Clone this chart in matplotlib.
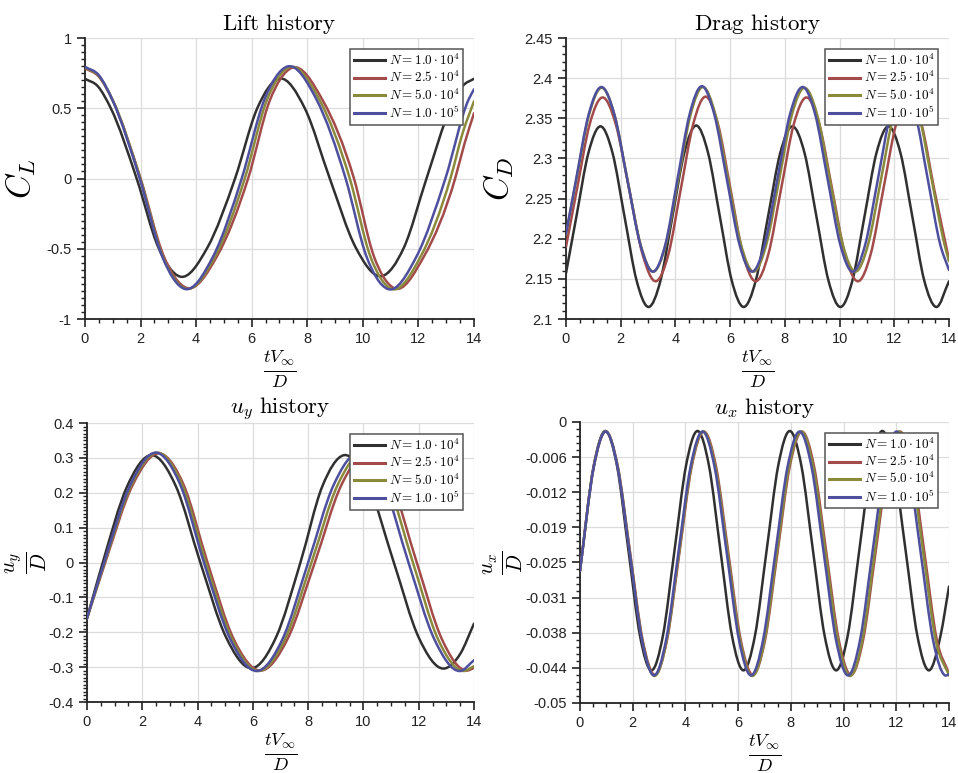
import numpy as np
import matplotlib
matplotlib.use("Agg")
import matplotlib.pyplot as plt
from matplotlib.path import Path
from matplotlib.patches import PathPatch
from matplotlib.lines import Line2D
from matplotlib.ticker import MultipleLocator, AutoMinorLocator, FuncFormatter, FixedLocator

plt.rcParams['font.family'] = ['Liberation Sans', 'DejaVu Sans']
plt.rcParams['mathtext.fontset'] = 'cm'
plt.rcParams['axes.unicode_minus'] = False

# ---- mesh sizes and line colours ----
labels = [r'$N = 1.0\cdot10^4$', r'$N = 2.5\cdot10^4$', r'$N = 5.0\cdot10^4$', r'$N = 1.0\cdot10^5$']
colors = ['#303030', '#a34b4b', '#8a8a3c', '#4e4f9e']

# ---- lift coefficient ----
lift_t_1e4 = [0, 0.47, 0.93, 1.86, 2.64, 3.42, 4.41, 5.40, 6.20, 7.01, 7.91, 8.81, 9.74, 10.67, 11.48, 12.29, 13.15, 13.60, 14.0]
lift_cl_1e4 = [0.71, 0.655, 0.50, 0.0, -0.49, -0.698, -0.49, 0.0, 0.50, 0.712, 0.50, 0.0, -0.49, -0.695, -0.49, 0.0, 0.50, 0.66, 0.71]
lift_t_2e4 = [0, 0.5, 1.0, 2.0, 2.83, 3.65, 4.76, 5.87, 6.65, 7.43, 8.56, 9.68, 10.39, 11.10, 12.21, 13.32, 13.66, 14.0]
lift_cl_2e4 = [0.785, 0.725, 0.555, 0.0, -0.55, -0.778, -0.55, 0.0, 0.555, 0.787, 0.555, 0.0, -0.55, -0.778, -0.55, 0.0, 0.25, 0.465]
lift_t_5e4 = [0, 0.5, 0.995, 1.99, 2.80, 3.61, 4.68, 5.75, 6.55, 7.35, 8.44, 9.53, 10.27, 11.0, 12.08, 13.15, 13.6, 14.0]
lift_cl_5e4 = [0.79, 0.73, 0.56, 0.0, -0.555, -0.783, -0.555, 0.0, 0.56, 0.792, 0.56, 0.0, -0.555, -0.783, -0.555, 0.0, 0.33, 0.55]
lift_t_1e5 = [0, 0.5, 0.985, 1.97, 2.78, 3.58, 4.61, 5.64, 6.46, 7.28, 8.33, 9.38, 10.13, 10.88, 11.93, 12.97, 13.8, 14.0]
lift_cl_1e5 = [0.795, 0.735, 0.56, 0.0, -0.555, -0.785, -0.555, 0.0, 0.563, 0.797, 0.563, 0.0, -0.555, -0.785, -0.555, 0.0, 0.56, 0.635]

# ---- drag coefficient ----
drag_t_1e4 = [0, 0.38, 0.82, 1.26, 1.70, 2.14, 2.58, 3.02, 3.455, 3.89, 4.325, 4.76, 5.193, 5.625, 6.058, 6.49,
              6.938, 7.385, 7.833, 8.28, 8.718, 9.155, 9.593, 10.03, 10.47, 10.91, 11.35, 11.79, 12.225, 12.66,
              13.095, 13.53, 14.0]
drag_cd_1e4 = [2.157, 2.2275, 2.307, 2.340, 2.307, 2.2275, 2.148, 2.115, 2.148, 2.2275, 2.307, 2.341, 2.307,
               2.2275, 2.148, 2.115, 2.148, 2.2275, 2.307, 2.340, 2.307, 2.2275, 2.148, 2.115, 2.148, 2.2275,
               2.307, 2.340, 2.307, 2.2275, 2.148, 2.115, 2.147]
drag_t_2e4 = [0, 0.40, 0.865, 1.33, 1.82, 2.31, 2.80, 3.29, 3.743, 4.195, 4.648, 5.10, 5.558, 6.015, 6.473, 6.93,
              7.395, 7.86, 8.325, 8.79, 9.26, 9.73, 10.20, 10.67, 11.135, 11.60, 12.065, 12.53, 12.995, 13.46, 14.0]
drag_cd_2e4 = [2.190, 2.2615, 2.3425, 2.376, 2.3425, 2.2615, 2.1805, 2.147, 2.1805, 2.2615, 2.3425, 2.377, 2.3425,
               2.2615, 2.1805, 2.147, 2.1805, 2.2615, 2.3425, 2.376, 2.3425, 2.2615, 2.1805, 2.147, 2.1805, 2.2615,
               2.3425, 2.376, 2.3425, 2.2615, 2.174]
drag_t_5e4 = [0, 0.375, 0.84, 1.30, 1.775, 2.25, 2.725, 3.20, 3.65, 4.10, 4.55, 5.00, 5.465, 5.93, 6.395, 6.86,
              7.325, 7.79, 8.255, 8.72, 9.185, 9.65, 10.115, 10.58, 11.045, 11.51, 11.975, 12.44, 12.905, 13.37,
              13.835, 14.0]
drag_cd_5e4 = [2.205, 2.273, 2.354, 2.388, 2.354, 2.273, 2.193, 2.159, 2.193, 2.273, 2.354, 2.389, 2.354, 2.273,
               2.193, 2.159, 2.193, 2.273, 2.354, 2.388, 2.354, 2.273, 2.193, 2.159, 2.193, 2.273, 2.354, 2.388,
               2.354, 2.273, 2.193, 2.172]
drag_t_1e5 = [0, 0.37, 0.83, 1.29, 1.765, 2.24, 2.715, 3.19, 3.633, 4.075, 4.518, 4.96, 5.42, 5.88, 6.34, 6.80,
              7.263, 7.725, 8.188, 8.65, 9.108, 9.565, 10.023, 10.48, 10.94, 11.40, 11.86, 12.32, 12.773, 13.225,
              13.678, 14.0]
drag_cd_1e5 = [2.206, 2.274, 2.355, 2.389, 2.355, 2.274, 2.193, 2.159, 2.193, 2.274, 2.355, 2.390, 2.355, 2.274,
               2.193, 2.159, 2.193, 2.274, 2.355, 2.389, 2.355, 2.274, 2.193, 2.159, 2.193, 2.274, 2.355, 2.389,
               2.355, 2.274, 2.193, 2.161]

# ---- transverse displacement u_y / D ----
uy_t_1e4 = [0, 0.57, 1.45, 2.34, 3.22, 4.10, 5.03, 5.96, 6.84, 7.72, 8.51, 9.30, 10.20, 11.10, 12.00, 12.90, 13.50, 14.0]
uy_val_1e4 = [-0.16, 0.0, 0.218, 0.308, 0.218, 0.0, -0.214, -0.303, -0.214, 0.0, 0.218, 0.308, 0.218, 0.0, -0.215, -0.304, -0.262, -0.175]
uy_t_2e4 = [0, 0.66, 1.65, 2.64, 3.50, 4.36, 5.31, 6.26, 7.25, 8.24, 9.20, 10.15, 11.04, 11.93, 12.84, 13.74, 14.0]
uy_val_2e4 = [-0.16, 0.0, 0.222, 0.313, 0.222, 0.0, -0.22, -0.31, -0.22, 0.0, 0.222, 0.313, 0.222, 0.0, -0.22, -0.31, -0.302]
uy_t_5e4 = [0, 0.64, 1.61, 2.58, 3.44, 4.30, 5.25, 6.20, 7.16, 8.12, 9.07, 10.02, 10.90, 11.79, 12.70, 13.62, 14.0]
uy_val_5e4 = [-0.16, 0.0, 0.223, 0.315, 0.223, 0.0, -0.22, -0.311, -0.22, 0.0, 0.223, 0.315, 0.223, 0.0, -0.22, -0.311, -0.297]
uy_t_1e5 = [0, 0.62, 1.57, 2.52, 3.375, 4.23, 5.185, 6.14, 7.07, 8.0, 8.925, 9.85, 10.74, 11.63, 12.565, 13.5, 14.0]
uy_val_1e5 = [-0.16, 0.0, 0.223, 0.315, 0.223, 0.0, -0.22, -0.311, -0.22, 0.0, 0.223, 0.315, 0.223, 0.0, -0.22, -0.311, -0.28]

# ---- streamwise displacement u_x / D ----
ux_t_1e4 = [0, 0.52, 0.97, 1.405, 1.84, 2.275, 2.71, 3.148, 3.585, 4.022, 4.46, 4.895, 5.33, 5.765, 6.20, 6.64,
            7.08, 7.52, 7.96, 8.40, 8.84, 9.28, 9.72, 10.158, 10.595, 11.032, 11.47, 11.91, 12.355, 12.798, 13.24,
            13.68, 14.0]
ux_val_1e4 = [-0.0265, -0.0078, -0.0016, -0.0078, -0.0229, -0.0380, -0.0442, -0.0380, -0.0229, -0.0078, -0.0016,
              -0.0078, -0.0229, -0.0380, -0.0442, -0.0380, -0.0229, -0.0078, -0.0016, -0.0078, -0.0229, -0.0380,
              -0.0442, -0.0380, -0.0229, -0.0078, -0.0016, -0.0078, -0.0229, -0.0380, -0.0442, -0.0380, -0.0293]
ux_t_2e4 = [0, 0.52, 0.97, 1.438, 1.905, 2.373, 2.84, 3.305, 3.77, 4.235, 4.70, 5.165, 5.63, 6.095, 6.56, 7.025,
            7.49, 7.955, 8.42, 8.885, 9.35, 9.815, 10.28, 10.745, 11.21, 11.675, 12.14, 12.605, 13.07, 13.535, 14.0]
ux_val_2e4 = [-0.0265, -0.0080, -0.0017, -0.0080, -0.02335, -0.0387, -0.0450, -0.0387, -0.02335, -0.0080, -0.0017,
              -0.0080, -0.02335, -0.0387, -0.0450, -0.0387, -0.02335, -0.0080, -0.0017, -0.0080, -0.02335, -0.0387,
              -0.0450, -0.0387, -0.02335, -0.0080, -0.0017, -0.0080, -0.02335, -0.0387, -0.0448]
ux_t_5e4 = [0, 0.52, 0.97, 1.435, 1.90, 2.365, 2.83, 3.293, 3.755, 4.218, 4.68, 5.145, 5.61, 6.075, 6.54, 7.003,
            7.465, 7.928, 8.39, 8.855, 9.32, 9.785, 10.25, 10.713, 11.175, 11.638, 12.10, 12.565, 13.03, 13.495, 14.0]
ux_val_5e4 = [-0.0265, -0.0081, -0.0017, -0.0081, -0.02345, -0.0388, -0.0452, -0.0388, -0.02345, -0.0081, -0.0017,
              -0.0081, -0.02345, -0.0388, -0.0452, -0.0388, -0.02345, -0.0081, -0.0017, -0.0081, -0.02345, -0.0388,
              -0.0452, -0.0388, -0.02345, -0.0081, -0.0017, -0.0081, -0.02345, -0.0388, -0.0451]
ux_t_1e5 = [0, 0.52, 0.97, 1.43, 1.89, 2.35, 2.81, 3.27, 3.73, 4.19, 4.65, 5.11, 5.57, 6.03, 6.49, 6.95, 7.41,
            7.87, 8.33, 8.79, 9.25, 9.71, 10.17, 10.63, 11.09, 11.55, 12.01, 12.47, 12.93, 13.39, 13.85, 14.0]
ux_val_1e5 = [-0.0265, -0.0081, -0.0017, -0.0081, -0.0234, -0.0387, -0.0451, -0.0387, -0.0234, -0.0081, -0.0017,
              -0.0081, -0.0234, -0.0387, -0.0451, -0.0387, -0.0234, -0.0081, -0.0017, -0.0081, -0.0234, -0.0387,
              -0.0451, -0.0387, -0.0234, -0.0081, -0.0017, -0.0081, -0.0234, -0.0387, -0.0451, -0.0449]

ux_ticks = [0, -0.00625, -0.0125, -0.01875, -0.025, -0.03125, -0.0375, -0.04375, -0.05]
ux_ticklabels = ['0', '-0.006', '-0.012', '-0.019', '-0.025', '-0.031', '-0.038', '-0.044', '-0.05']


def smooth_path(t, y):
    # cubic Hermite segments through the samples, written as Bezier curves
    t = np.asarray(t, float)
    y = np.asarray(y, float)
    h = np.diff(t)
    d = np.diff(y) / h
    m = np.empty_like(y)
    m[0], m[-1] = d[0], d[-1]
    m[1:-1] = (h[1:] * d[:-1] + h[:-1] * d[1:]) / (h[:-1] + h[1:])
    verts = [(t[0], y[0])]
    codes = [Path.MOVETO]
    for i in range(len(h)):
        verts += [(t[i] + h[i] / 3, y[i] + m[i] * h[i] / 3),
                  (t[i + 1] - h[i] / 3, y[i + 1] - m[i + 1] * h[i] / 3),
                  (t[i + 1], y[i + 1])]
        codes += [Path.CURVE4] * 3
    return Path(verts, codes)


def draw_panel(ax, series, title, ylabel, ylim, ymajor, yminor, ylabel_size, ylabelpad):
    for (t, y), c in zip(series, colors):
        ax.add_patch(PathPatch(smooth_path(t, y), facecolor='none', edgecolor=c, lw=1.8,
                               joinstyle='round', capstyle='round', zorder=3))
    ax.set_xlim(0, 14)
    ax.set_ylim(*ylim)
    ax.xaxis.set_major_locator(MultipleLocator(2))
    ax.xaxis.set_minor_locator(AutoMinorLocator(4))
    if ymajor is not None:
        ax.yaxis.set_major_locator(MultipleLocator(ymajor))
        ax.yaxis.set_major_formatter(FuncFormatter(lambda v, p: '%g' % round(v, 6)))
    ax.yaxis.set_minor_locator(AutoMinorLocator(yminor))
    ax.grid(True, which='major', color='#dcdcdc', lw=0.9, zorder=0)
    ax.set_axisbelow(True)
    for s in ['top', 'right']:
        ax.spines[s].set_visible(False)
    for s in ['left', 'bottom']:
        ax.spines[s].set_linewidth(1.3)
        ax.spines[s].set_color('#222222')
    ax.tick_params(which='major', direction='out', length=6, width=1.2, labelsize=10.5, colors='#222222')
    ax.tick_params(which='minor', direction='out', length=3, width=1.0, colors='#222222')
    ax.set_title(title, fontsize=16.5, pad=6)
    ax.set_xlabel(r'$\frac{tV_\infty}{D}$', fontsize=19, labelpad=1)
    ax.set_ylabel(ylabel, fontsize=ylabel_size, labelpad=ylabelpad)
    handles = [Line2D([], [], color=c, lw=2.2) for c in colors]
    leg = ax.legend(handles, labels, loc='upper right', fontsize=9.5, frameon=True, fancybox=False,
                    framealpha=1, edgecolor='#555555', handlelength=2.3, handletextpad=0.3,
                    borderpad=0.3, labelspacing=0.15, borderaxespad=0.8)
    leg.get_frame().set_linewidth(1.1)
    leg.set_zorder(5)


fig = plt.figure(figsize=(9.58, 7.73), dpi=100)

ax_lift = fig.add_axes([0.0887, 0.5873, 0.4061, 0.3635])
ax_drag = fig.add_axes([0.5908, 0.5873, 0.3998, 0.3635])
ax_uy = fig.add_axes([0.0908, 0.0918, 0.4040, 0.3609])
ax_ux = fig.add_axes([0.6054, 0.0906, 0.3852, 0.3635])

draw_panel(ax_lift,
           [(lift_t_1e4, lift_cl_1e4), (lift_t_2e4, lift_cl_2e4), (lift_t_5e4, lift_cl_5e4), (lift_t_1e5, lift_cl_1e5)],
           r'$\mathrm{Lift\ history}$', r'$C_L$', (-1, 1), 0.5, 10, 24, 6)
draw_panel(ax_drag,
           [(drag_t_1e4, drag_cd_1e4), (drag_t_2e4, drag_cd_2e4), (drag_t_5e4, drag_cd_5e4), (drag_t_1e5, drag_cd_1e5)],
           r'$\mathrm{Drag\ history}$', r'$C_D$', (2.1, 2.45), 0.05, 5, 24, 6)
draw_panel(ax_uy,
           [(uy_t_1e4, uy_val_1e4), (uy_t_2e4, uy_val_2e4), (uy_t_5e4, uy_val_5e4), (uy_t_1e5, uy_val_1e5)],
           r'$u_y\ \mathrm{history}$', r'$\frac{u_y}{D}$', (-0.4, 0.4), 0.1, 10, 22, 0)
draw_panel(ax_ux,
           [(ux_t_1e4, ux_val_1e4), (ux_t_2e4, ux_val_2e4), (ux_t_5e4, ux_val_5e4), (ux_t_1e5, ux_val_1e5)],
           r'$u_x\ \mathrm{history}$', r'$\frac{u_x}{D}$', (-0.05, 0), None, 5, 22, 0)
ax_ux.yaxis.set_major_locator(FixedLocator(ux_ticks))
ax_ux.set_yticklabels(ux_ticklabels)

fig.savefig('out.png', dpi=100)
